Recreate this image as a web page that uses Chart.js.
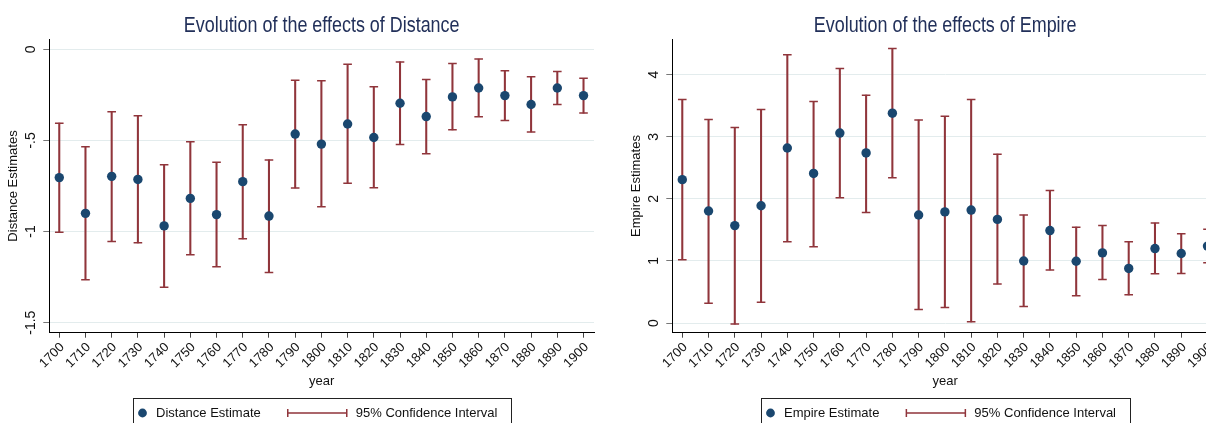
<!DOCTYPE html>
<html><head><meta charset="utf-8">
<script src="https://cdn.jsdelivr.net/npm/chart.js@4.4.1/dist/chart.umd.min.js"></script>
<style>
html,body{margin:0;padding:0;background:#fff;overflow:hidden;width:1206px;height:423px;}
#wrap{position:relative;width:1206px;height:423px;overflow:hidden;background:#fff;}
canvas{position:absolute;top:0;}
#c1{left:0;} #c2{left:623px;}
</style></head><body>
<div id="wrap"><canvas id="c1" width="612" height="440"></canvas><canvas id="c2" width="612" height="440"></canvas></div>
<script>
// ---- data ----
const years = [1700,1710,1720,1730,1740,1750,1760,1770,1780,1790,1800,1810,1820,1830,1840,1850,1860,1870,1880,1890,1900];
const yearTickLabels = ['1700','1710','1720','1730','1740','1750','1760','1770','1780','1790','1800','1810','1820','1830','1840','1850','1860','1870','1880','1890','1900'];

const distEst = [-0.704,-0.900,-0.697,-0.714,-0.969,-0.818,-0.907,-0.726,-0.915,-0.465,-0.520,-0.410,-0.484,-0.296,-0.369,-0.261,-0.212,-0.254,-0.303,-0.212,-0.254];
const distLo  = [-1.004,-1.264,-1.055,-1.062,-1.305,-1.127,-1.193,-1.040,-1.224,-0.761,-0.864,-0.735,-0.759,-0.522,-0.573,-0.442,-0.370,-0.390,-0.453,-0.303,-0.350];
const distHi  = [-0.405,-0.535,-0.343,-0.365,-0.633,-0.507,-0.620,-0.414,-0.607,-0.170,-0.173,-0.082,-0.206,-0.069,-0.166,-0.078,-0.053,-0.117,-0.151,-0.122,-0.159];
const distTicks = [-1.5,-1,-0.5,0];
const distTickLabels = ['-1.5','-1','-.5','0'];

const empEst = [2.31,1.805,1.57,1.89,2.82,2.41,3.06,2.74,3.38,1.74,1.79,1.82,1.67,1.00,1.49,0.995,1.13,0.88,1.20,1.12,1.24];
const empLo  = [1.02,0.32,-0.016,0.335,1.31,1.23,2.02,1.78,2.34,0.22,0.25,0.02,0.63,0.265,0.855,0.44,0.70,0.455,0.795,0.80,0.97];
const empHi  = [3.60,3.28,3.15,3.44,4.32,3.57,4.10,3.67,4.42,3.27,3.33,3.60,2.72,1.74,2.135,1.545,1.57,1.31,1.61,1.44,1.51];
const empTicks = [0,1,2,3,4];
const empTickLabels = ['0','1','2','3','4'];

// ---- styles ----
const NAVY = '#1a476f';
const MAROON = '#90353b';
const TITLE_COLOR = '#22305a';
const TEXT = '#111111';
const SANS = '"Liberation Sans", Arial, sans-serif';

// condensed title centred over the plot area
const narrowTitle = {
  id: 'narrowTitle',
  afterDraw(chart, args, o) {
    const ctx = chart.ctx, a = chart.chartArea;
    ctx.save();
    ctx.font = '22px ' + SANS;
    ctx.fillStyle = TITLE_COLOR; ctx.textAlign = 'center'; ctx.textBaseline = 'alphabetic';
    ctx.translate((a.left + a.right) / 2, o.baseline);
    ctx.scale(0.815, 1);
    ctx.fillText(o.text, 0, 0);
    ctx.restore();
  }
};

const rotatedYTicks = {
  id: 'rotatedYTicks',
  afterDraw(chart, args, o) {
    const s = chart.scales.y, ctx = chart.ctx;
    ctx.save();
    ctx.font = '14px ' + SANS;
    ctx.fillStyle = TEXT; ctx.textAlign = 'center'; ctx.textBaseline = 'middle';
    o.values.forEach((v, i) => {
      const py = s.getPixelForValue(v);
      ctx.save(); ctx.translate(o.x, py); ctx.rotate(-Math.PI / 2);
      ctx.fillText(o.labels[i], 0, 0);
      ctx.restore();
    });
    ctx.restore();
  }
};

const stataLegend = {
  id: 'stataLegend',
  afterDraw(chart, args, o) {
    const ctx = chart.ctx, a = chart.chartArea;
    ctx.save();
    ctx.font = '13px ' + SANS;
    const w1 = ctx.measureText(o.label1).width, w2 = ctx.measureText(o.label2).width;
    const total = 23 + w1 + 27 + 59 + 9 + w2 + 13.5;
    const L = Math.round((a.left + a.right) / 2 - total / 2);
    const cy = o.cy;
    ctx.strokeStyle = '#222'; ctx.lineWidth = 1;
    ctx.strokeRect(L + 0.5, o.top + 0.5, Math.round(total), 40);
    ctx.fillStyle = NAVY; ctx.beginPath(); ctx.arc(L + 9.5, cy, 4.4, 0, 2 * Math.PI); ctx.fill();
    ctx.fillStyle = TEXT; ctx.textBaseline = 'middle'; ctx.textAlign = 'left';
    ctx.fillText(o.label1, L + 23, cy);
    const sx = L + 23 + w1 + 27;
    ctx.strokeStyle = MAROON; ctx.lineWidth = 1.5;
    ctx.beginPath();
    ctx.moveTo(sx, cy); ctx.lineTo(sx + 59, cy);
    ctx.moveTo(sx, cy - 4); ctx.lineTo(sx, cy + 4);
    ctx.moveTo(sx + 59, cy - 4); ctx.lineTo(sx + 59, cy + 4);
    ctx.stroke();
    ctx.fillText(o.label2, sx + 59 + 9, cy);
    ctx.restore();
  }
};

function makeChart(id, est, lo, hi, yMin, yMax, yTicks, yTickLabels, title, yTitle, estLabel, padRight) {
  return new Chart(document.getElementById(id), {
    type: 'bar',
    data: {
      datasets: [
        { type: 'scatter', label: estLabel, data: years.map((x, i) => ({x, y: est[i]})),
          pointRadius: 4.7, pointBackgroundColor: NAVY, pointBorderWidth: 0, order: 0 },
        { type: 'scatter', label: 'CI upper', data: years.map((x, i) => ({x, y: hi[i]})),
          pointStyle: 'line', pointRadius: 4.3, pointBorderColor: MAROON, pointBorderWidth: 1.5, order: 1 },
        { type: 'scatter', label: 'CI lower', data: years.map((x, i) => ({x, y: lo[i]})),
          pointStyle: 'line', pointRadius: 4.3, pointBorderColor: MAROON, pointBorderWidth: 1.5, order: 1 },
        { type: 'bar', label: '95% Confidence Interval', data: years.map((x, i) => ({x, y: [lo[i], hi[i]]})),
          backgroundColor: MAROON, borderWidth: 0, barThickness: 1.4, order: 2 }
      ]
    },
    options: {
      responsive: false, animation: false, devicePixelRatio: 1,
      layout: { padding: { left: 0, right: padRight, top: 39.3, bottom: 50 } },
      plugins: {
        legend: { display: false }, tooltip: { enabled: false }, title: { display: false },
        narrowTitle: { text: title, baseline: 31.5 },
        rotatedYTicks: { values: yTicks, labels: yTickLabels, x: 31 },
        stataLegend: { label1: estLabel, label2: '95% Confidence Interval', top: 398, cy: 413 }
      },
      scales: {
        x: {
          type: 'linear', min: 1696.2, max: 1904, offset: false,
          afterBuildTicks: s => { s.ticks = years.map(v => ({value: v})); },
          afterFit: s => { s.height = 57.3; },
          ticks: { autoSkip: false, minRotation: 45, maxRotation: 45, color: TEXT,
                   font: { family: SANS, size: 13 }, padding: 2, labelOffset: 3,
                   callback: (v, i) => yearTickLabels[i] },
          grid: { drawOnChartArea: false, drawTicks: true, tickLength: 5, tickColor: '#444', offset: false },
          border: { color: '#000', width: 1 },
          title: { display: true, text: 'year', color: TEXT, font: { family: SANS, size: 13 }, padding: { top: 0, bottom: 0.5 } }
        },
        y: {
          type: 'linear', min: yMin, max: yMax,
          afterBuildTicks: s => { s.ticks = yTicks.map(v => ({value: v})); },
          afterFit: s => { s.width = 49.3; },
          ticks: { display: false },
          grid: { color: '#e3eced', lineWidth: 1, drawTicks: true, tickLength: 6, tickColor: '#777' },
          border: { color: '#000', width: 1 },
          title: { display: true, text: yTitle, color: TEXT, font: { family: SANS, size: 13 }, padding: { top: 6, bottom: 0 } }
        }
      }
    },
    plugins: [narrowTitle, rotatedYTicks, stataLegend]
  });
}

makeChart('c1', distEst, distLo, distHi, -1.555, 0.055, distTicks, distTickLabels,
  'Evolution of the effects of Distance', 'Distance Estimates', 'Distance Estimate', 18);
makeChart('c2', empEst, empLo, empHi, -0.155, 4.57, empTicks, empTickLabels,
  'Evolution of the effects of Empire', 'Empire Estimates', 'Empire Estimate', 17);
</script>
</body></html>
